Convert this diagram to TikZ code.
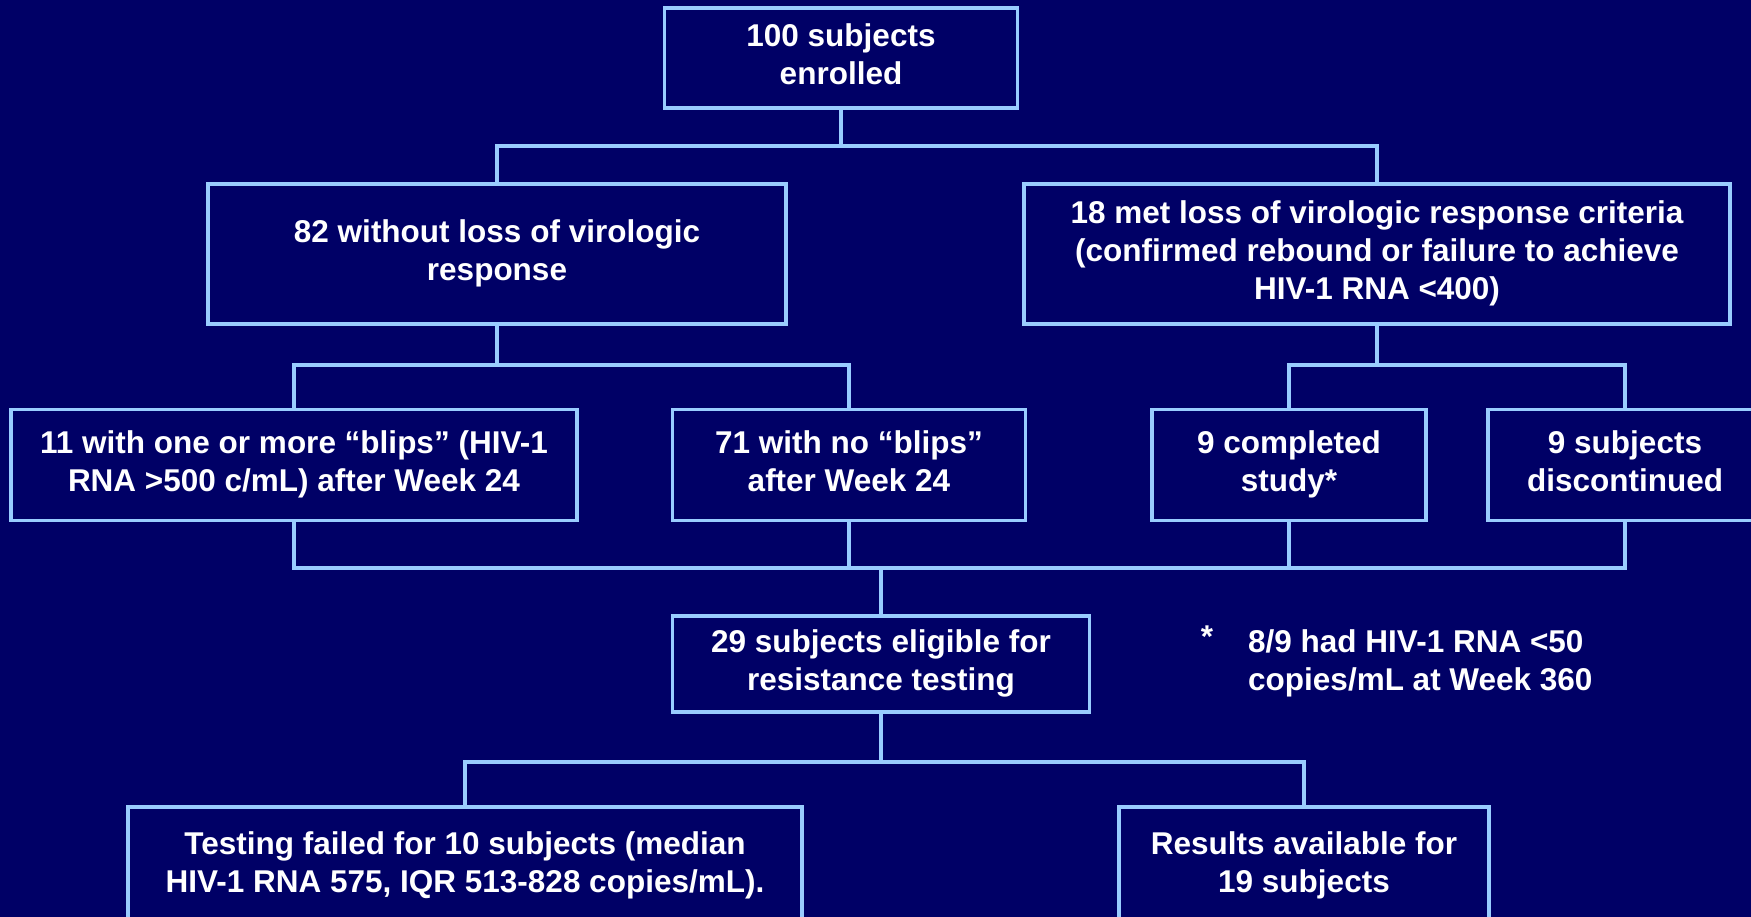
\documentclass[tikz,border=0pt]{standalone}
\usepackage{fontspec}
\setmainfont{Liberation Sans}
\definecolor{navy}{HTML}{000066}
\definecolor{paleblue}{HTML}{99CCFF}
\newcommand{\topstrut}{\rule{0pt}{50.6pt}}
\newcommand{\botstrut}{\rule[-7pt]{0pt}{0pt}}
\begin{document}
\begin{tikzpicture}[x=1pt, y=-1pt,
          font=\fontsize{31.5}{38}\selectfont\bfseries,
          box/.style={draw=paleblue, line width=3.5pt, text=white, align=center, inner sep=0pt,
                      execute at begin node=\topstrut, execute at end node=\botstrut},
          link/.style={draw=paleblue, line width=3.5pt}]
        \fill[navy] (0,0) rectangle (1751,917);
        \useasboundingbox (0,0) rectangle (1751,917);
        \clip (0,0) rectangle (1751,917);
        \node[box, minimum width=353, minimum height=100] (enrol) at (841,58) {100 subjects\\enrolled};
        \node[box, minimum width=578, minimum height=140] (noloss) at (497,254) {82 without loss of virologic\\response};
        \node[box, minimum width=706, minimum height=140] (loss) at (1377,254) {18 met loss of virologic response criteria\\(confirmed rebound or failure to achieve\\HIV-1 RNA <400)};
        \node[box, minimum width=566, minimum height=111] (blips) at (294,465) {11 with one or more “blips” (HIV-1\\RNA >500 c/mL) after Week 24};
        \node[box, minimum width=353, minimum height=111] (noblips) at (849,465) {71 with no “blips”\\after Week 24};
        \node[box, minimum width=274, minimum height=111] (compl) at (1289,465) {9 completed\\study*};
        \node[box, minimum width=274, minimum height=111] (disc) at (1625,465) {9 subjects\\discontinued};
        \node[box, minimum width=417, minimum height=96] (elig) at (881,664) {29 subjects eligible for\\resistance testing};
        \node[box, minimum width=674, minimum height=118] (failed) at (465,866) {Testing failed for 10 subjects (median\\HIV-1 RNA 575, IQR 513-828 copies/mL).};
        \node[box, minimum width=370, minimum height=118] (results) at (1304,866) {Results available for\\19 subjects};
        \node[text=white, anchor=base, inner sep=0pt] (star) at (1207,647) {*};
        \node[text=white, anchor=west, align=left, inner sep=0pt] (note) at (1248,663) {8/9 had HIV-1 RNA <50\\copies/mL at Week 360};
        \coordinate (bus1) at (841,146);
        \coordinate (bus2) at (497,365);
        \coordinate (bus3) at (1377,365);
        \coordinate (bus4) at (881,568);
        \coordinate (bus5) at (881,762);
        \draw[link] (enrol.south) -- (bus1);
        \draw[link] (noloss.north) |- (bus1) -| (loss.north);
        \draw[link] (noloss.south) -- (bus2);
        \draw[link] (blips.north) |- (bus2) -| (noblips.north);
        \draw[link] (loss.south) -- (bus3);
        \draw[link] (compl.north) |- (bus3) -| (disc.north);
        \draw[link] (blips.south) |- (bus4) -| (disc.south);
        \draw[link] (noblips.south) -- (noblips.south |- bus4);
        \draw[link] (compl.south) -- (compl.south |- bus4);
        \draw[link] (bus4) -- (elig.north);
        \draw[link] (elig.south) -- (bus5);
        \draw[link] (failed.north) |- (bus5) -| (results.north);
      \end{tikzpicture}
\end{document}
